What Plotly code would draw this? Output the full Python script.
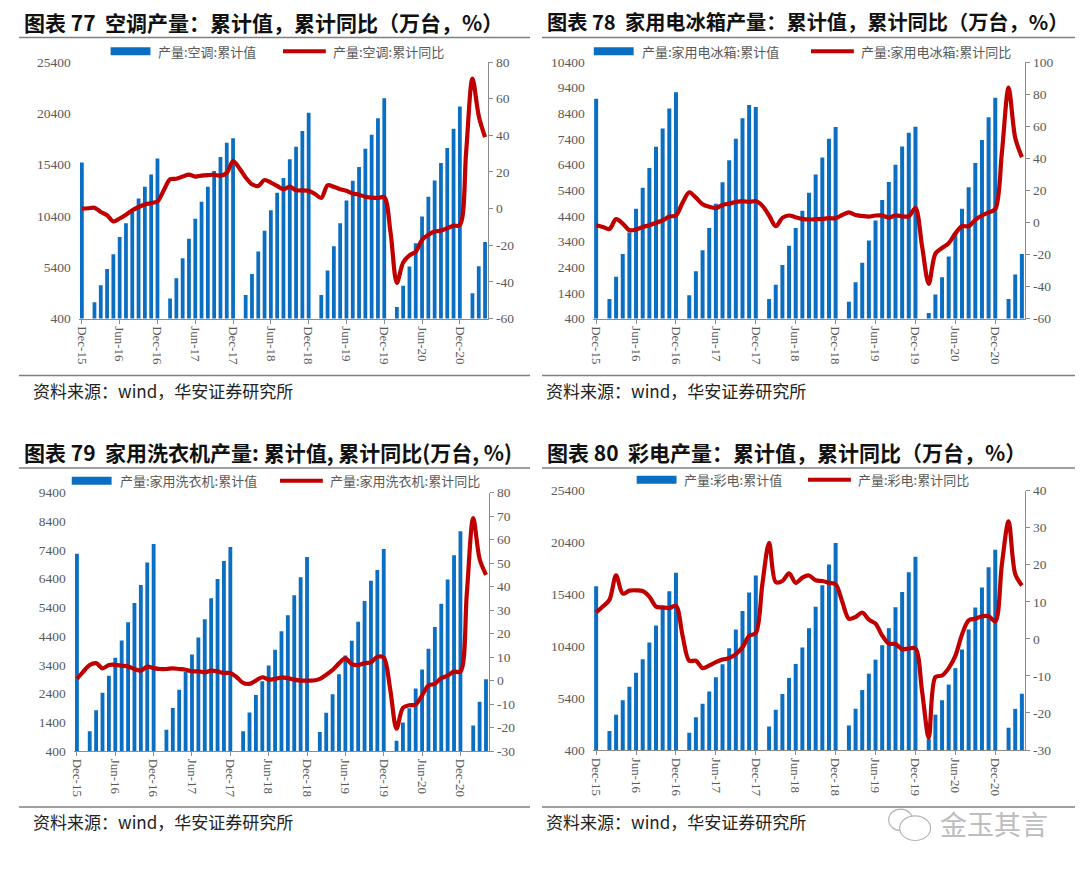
import plotly.graph_objects as go
import pandas as pd

W, H = 1080, 876

# ---------------- data ----------------
months = [d.strftime('%b-%y') for d in pd.date_range('2015-12-01', '2021-04-01', freq='MS')]
tick_labels = months[0::6]

N = None
ac_bars = [15600, N,
           2000, 3650, 5220, 6680, 8340, 9680, 10830, 12100, 13250, 14430, 15990, N,
           2350, 4320, 6270, 8180, 10130, 11790, 13250, 14780, 16150, 17530, 17970, N,
           2700, 4740, 6940, 8950, 10960, 12650, 14110, 15930, 17140, 18670, 20460, N,
           2700, 5090, 7450, 9680, 11910, 13830, 15170, 16950, 18320, 19920, 21860, N,
           1520, 3590, 5470, 7740, 10350, 12260, 13860, 15550, 17020, 18900, 21060, N,
           2860, 5500, 7860]
ac_yoy = [0, 0.2, 0.5, -1.8, -3.6, -7.0, -5.4, -3.3, -0.9, 0.9, 2.3, 3.0, 4.0,
          10, 16, 16.3, 17.5, 18.6, 17.5, 18, 18.3, 18.5, 18, 19.5, 26,
          22, 17, 13.3, 12.4, 15.6, 14.2, 12.4, 10.6, 12, 10, 10, 9.7,
          8, 5.8, 12.7, 11.9, 10.6, 9.7, 8.3, 7.6, 6.5, 6.0, 5.8, 6.2,
          -13, -40.5, -29.4, -25.5, -23.5, -17, -14.3, -12.5, -12, -10.7, -9.3, -9,
          31, 71, 50.6, 39]

fridge_bars = [8970, N,
               1160, 2030, 2920, 3760, 4680, 5500, 6270, 7100, 7810, 8590, 9220, N,
               1310, 2240, 3060, 3930, 4880, 5710, 6570, 7410, 8210, 8730, 8650, N,
               1160, 1720, 2490, 3240, 3930, 4600, 5300, 6020, 6680, 7410, 7870, N,
               1060, 1820, 2580, 3440, 4220, 5020, 5720, 6400, 7110, 7640, 7880, N,
               620, 1340, 2010, 2820, 3720, 4680, 5520, 6460, 7360, 8250, 9010, N,
               1160, 2120, 2920]
fridge_yoy = [-1.8, -2.9, -4.1, 2, -0.8, -4.9, -4.5, -2.9, -1.8, -0.2, 1.2, 3.6, 4.3,
              12.3, 18.8, 15.4, 11.3, 9.7, 8.9, 10.9, 11.7, 12.7, 13.3, 12.7, 13.3,
              10.3, 4.3, -2.4, 2.8, 4.3, 3.2, 2.2, 1.8, 2.0, 2.2, 2.6, 2.6,
              4.6, 6.2, 4.6, 4.0, 3.6, 4.3, 4.3, 3.0, 4.3, 3.8, 3.8, 8.9,
              -15, -38.3, -19.5, -16, -13, -6.9, -2.4, -2.4, 1.6, 4.3, 6.2, 8.3,
              43.7, 84, 52.8, 40.7]

washer_bars = [7270, N,
               1090, 1820, 2430, 3020, 3650, 4250, 4880, 5550, 6180, 6960, 7610, N,
               1140, 1900, 2530, 3150, 3760, 4350, 4990, 5720, 6390, 7020, 7500, N,
               1090, 1740, 2350, 2830, 3380, 3930, 4570, 5130, 5820, 6450, 7160, N,
               1060, 1730, 2380, 3070, 3730, 4240, 4900, 5620, 6330, 6700, 7430, N,
               760, 1390, 1890, 2580, 3240, 3960, 4720, 5530, 6370, 7220, 8050, N,
               1290, 2120, 2900]
washer_yoy = [0.7, 3.8, 6.6, 7.4, 5.2, 6.6, 6.7, 6.3, 6.0, 4.9, 4.2, 5.9, 5.3,
              4.9, 4.9, 5.2, 4.9, 4.6, 3.9, 3.9, 3.5, 4.2, 3.9, 3.2, 3.2,
              1.4, -1.0, -1.4, 0, 1.4, 0.4, 0.7, 1.3, 1.0, 0.4, 0, 0,
              0, 0.7, 2.5, 4.5, 7.3, 9.4, 7.0, 6.6, 7.4, 7.7, 10.1, 9.8,
              -3.5, -20.5, -11.6, -10.5, -10.2, -6.3, -2.1, -1.4, 1.0, 2.1, 3.8, 3.8,
              37, 69.1, 51.7, 45]

tv_bars = [16190, N,
           2230, 3810, 5200, 6490, 7850, 9150, 10760, 12400, 13980, 15710, 17480, N,
           2070, 3560, 4850, 6050, 7410, 8670, 10220, 12020, 13790, 15590, 17230, N,
           2670, 4280, 5800, 7350, 8700, 10280, 12140, 14200, 16280, 18270, 20350, N,
           2770, 4380, 6180, 7760, 9110, 10500, 12140, 14160, 15620, 17540, 19030, N,
           1500, 3810, 5200, 6710, 8290, 10090, 12020, 14130, 16060, 18020, 19690, N,
           2550, 4370, 5820]
tv_yoy = [7.1, 8.7, 10.5, 17.1, 12.2, 13.0, 13.1, 12.9, 11.4, 8.7, 8.5, 8.3, 8.9,
          0.8, -5.9, -5.9, -7.9, -7.2, -6.3, -5.6, -5.2, -4.1, -2.3, 0.8, 1.6,
          14.9, 25.9, 15.3, 15.6, 17.7, 15.1, 16.5, 17.1, 15.8, 15.6, 15.1, 14.7,
          10.0, 5.4, 5.9, 7.1, 5.2, 4.1, 0.9, -1.3, -1.4, -2.8, -2.6, -2.6,
          -14.2, -26.6, -10.3, -9.9, -7.9, -4.6, 1.2, 5.0, 5.4, 6.1, 6.1, 4.7,
          20.2, 31.7, 17.5, 14.4]

titles = ["图表 77  空调产量：累计值，累计同比（万台，%）",
          "图表 78  家用电冰箱产量：累计值，累计同比（万台，%）",
          "图表 79  家用洗衣机产量: 累计值, 累计同比(万台, %)",
          "图表 80  彩电产量：累计值，累计同比（万台，%）"]
bar_names = ["产量:空调:累计值", "产量:家用电冰箱:累计值", "产量:家用洗衣机:累计值", "产量:彩电:累计值"]
line_names = ["产量:空调:累计同比", "产量:家用电冰箱:累计同比", "产量:家用洗衣机:累计同比", "产量:彩电:累计同比"]
source_text = "资料来源：wind，华安证券研究所"

left_ranges = [(400, 25400, 5000), (400, 10400, 1000), (400, 9400, 1000), (400, 25400, 5000)]
right_ranges = [(-60, 80, 20), (-60, 100, 20), (-30, 80, 10), (-30, 40, 10)]

bars_all = [ac_bars, fridge_bars, washer_bars, tv_bars]
yoy_all = [ac_yoy, fridge_yoy, washer_yoy, tv_yoy]

# ---------------- layout geometry (pixels) ----------------
plot_box = [(75, 486, 56, 317), (591, 1025, 56, 317), (70, 487, 494, 757), (591, 1025, 492, 756)]
title_pos = [(18, 15), (543, 15), (18, 453), (543, 453)]
title_size = [21, 20.2, 21, 21]
top_rule = [(15, 528, 31), (540, 1075, 31), (15, 528, 469), (540, 1075, 469)]
bot_rule = [(15, 528, 375), (540, 1075, 375), (15, 528, 814), (540, 1075, 814)]
source_pos = [(27, 390), (542, 390), (27, 829), (542, 829)]
legend_pos = [(107, 280), (592, 810), (68, 277), (635, 807)]
legend_y = [45, 45, 482, 481]

BLUE = '#0A6FC2'
RED = '#C00000'
AX = '#8C8C8C'
TXT = '#595959'
NUMFONT = 'Liberation Serif'
CJK = 'Noto Sans CJK SC'


def px(x):
    return x / W


def py(y):
    return 1 - y / H


fig = go.Figure()
layout = dict(width=W, height=H, margin=dict(l=0, r=0, t=0, b=0), autosize=False,
              paper_bgcolor='white', plot_bgcolor='rgba(0,0,0,0)', bargap=0.4,
              showlegend=False)
shapes = []
annotations = []

for k in range(4):
    p = k + 1
    xa = 'x' if p == 1 else f'x{p}'
    yl = 'y' if p == 1 else f'y{2 * p - 1}'
    yr = f'y{2 * p}'
    fig.add_trace(go.Bar(x=months, y=bars_all[k], xaxis=xa, yaxis=yl, name=bar_names[k],
                         marker=dict(color=BLUE, line=dict(width=0))))
    fig.add_trace(go.Scatter(x=months, y=yoy_all[k], xaxis=xa, yaxis=yr, name=line_names[k],
                             mode='lines', connectgaps=True,
                             line=dict(color=RED, width=4.2, shape='spline', smoothing=0.9)))
    x0, x1, y0, y1 = plot_box[k]
    lo, hi, st = left_ranges[k]
    rlo, rhi, rst = right_ranges[k]
    lvals = list(range(lo, hi + 1, st))
    rvals = list(range(rlo, rhi + 1, rst))
    xkey = 'xaxis' if p == 1 else f'xaxis{p}'
    ylkey = 'yaxis' if p == 1 else f'yaxis{2 * p - 1}'
    yrkey = f'yaxis{2 * p}'
    layout[xkey] = dict(domain=[px(x0), px(x1)], anchor=yl, type='category',
                        range=[-0.5, len(months) - 0.5], tickmode='array',
                        tickvals=tick_labels, ticktext=tick_labels, tickangle=90,
                        ticks='outside', ticklen=4, tickcolor=AX, showline=True,
                        linecolor=AX, linewidth=1, showgrid=False, zeroline=False,
                        tickfont=dict(family=NUMFONT, size=13, color=TXT))
    layout[ylkey] = dict(domain=[py(y1), py(y0)], anchor=xa, range=[lo, hi],
                         tickmode='array', tickvals=lvals, ticktext=[str(v) for v in lvals],
                         showgrid=False, zeroline=False, showline=False, ticks='',
                         ticklabelstandoff=7,
                         tickfont=dict(family=NUMFONT, size=13.5, color=TXT))
    layout[yrkey] = dict(overlaying=yl, side='right', anchor=xa, range=[rlo, rhi],
                         tickmode='array', tickvals=rvals, ticktext=[str(v) for v in rvals],
                         showgrid=False, zeroline=False, showline=True, linecolor=AX,
                         linewidth=1, ticks='outside', ticklen=4, tickcolor=AX,
                         tickfont=dict(family=NUMFONT, size=13.5, color=TXT))

    # title
    tx, ty = title_pos[k]
    annotations.append(dict(xref='paper', yref='paper', x=px(tx), y=py(ty), xanchor='left',
                            yanchor='middle', showarrow=False, text='<b>' + titles[k] + '</b>',
                            font=dict(family=CJK, size=title_size[k], color='#111111')))
    # rules
    a, b, yy = top_rule[k]
    shapes.append(dict(type='line', xref='paper', yref='paper', x0=px(a), x1=px(b),
                       y0=py(yy), y1=py(yy), line=dict(color='#7F7F7F', width=1.5)))
    a, b, yy = bot_rule[k]
    shapes.append(dict(type='line', xref='paper', yref='paper', x0=px(a), x1=px(b),
                       y0=py(yy), y1=py(yy), line=dict(color='#7F7F7F', width=1.5)))
    # source
    sx, sy = source_pos[k]
    annotations.append(dict(xref='paper', yref='paper', x=px(sx), y=py(sy), xanchor='left',
                            yanchor='middle', showarrow=False, text=source_text,
                            font=dict(family=CJK, size=17, color='#222222')))
    # legend keys
    bx, lx = legend_pos[k]
    ly = legend_y[k]
    shapes.append(dict(type='rect', xref='paper', yref='paper', x0=px(bx), x1=px(bx + 40),
                       y0=py(ly + 4), y1=py(ly - 4), fillcolor=BLUE, line=dict(width=0)))
    annotations.append(dict(xref='paper', yref='paper', x=px(bx + 46), y=py(ly), xanchor='left',
                            yanchor='middle', showarrow=False, text=bar_names[k],
                            font=dict(family=CJK, size=13, color=TXT)))
    shapes.append(dict(type='line', xref='paper', yref='paper', x0=px(lx), x1=px(lx + 43),
                       y0=py(ly), y1=py(ly), line=dict(color=RED, width=4)))
    annotations.append(dict(xref='paper', yref='paper', x=px(lx + 48), y=py(ly), xanchor='left',
                            yanchor='middle', showarrow=False, text=line_names[k],
                            font=dict(family=CJK, size=13, color=TXT)))

# watermark
shapes.append(dict(type='circle', xref='paper', yref='paper', x0=px(888), x1=px(912),
                   y0=py(838), y1=py(816), line=dict(color='#B5B5B5', width=1.2)))
shapes.append(dict(type='circle', xref='paper', yref='paper', x0=px(899), x1=px(930),
                   y0=py(848), y1=py(823), line=dict(color='#B5B5B5', width=1.2),
                   fillcolor='white'))
annotations.append(dict(xref='paper', yref='paper', x=px(937), y=py(831), xanchor='left',
                        yanchor='middle', showarrow=False, text='金玉其言',
                        font=dict(family=CJK, size=27, color='#BDBDBD')))

layout['shapes'] = shapes
layout['annotations'] = annotations
fig.update_layout(**layout)
fig.write_html('out.html')
